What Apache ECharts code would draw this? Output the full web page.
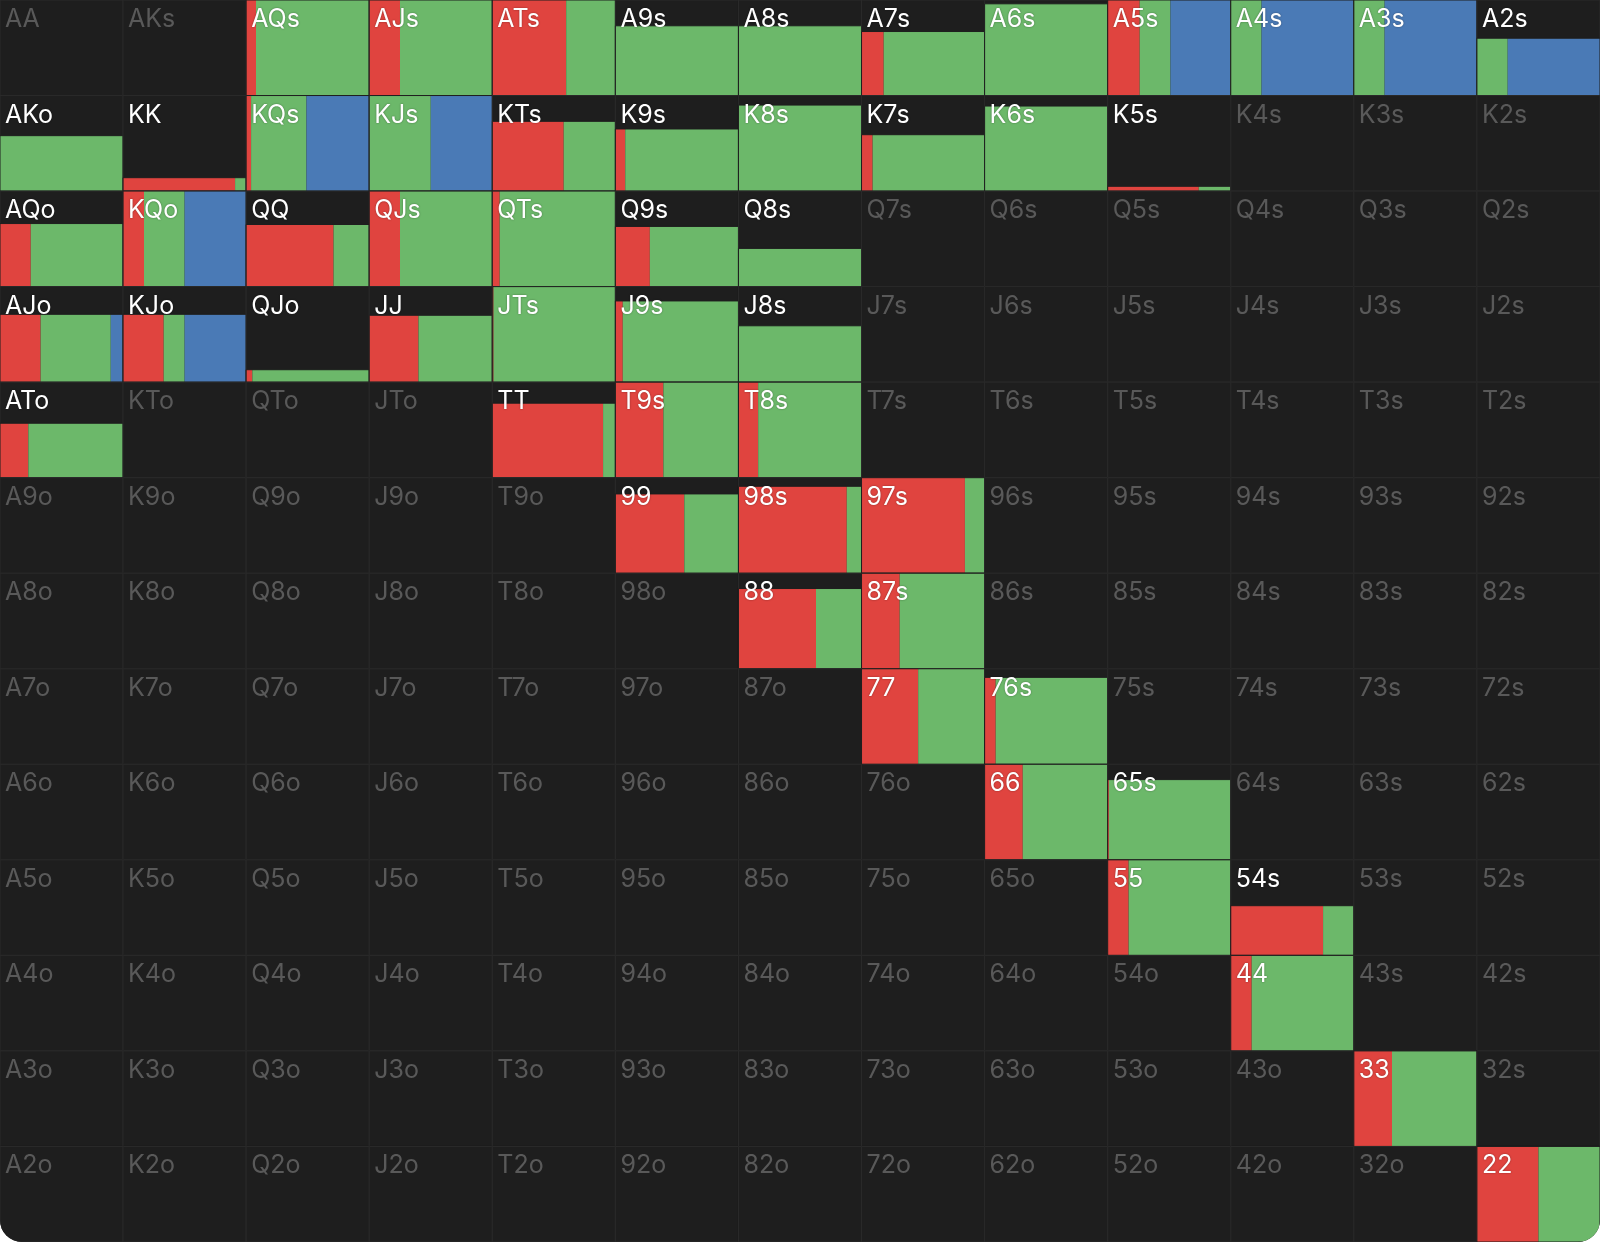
<!DOCTYPE html>
<html><head><meta charset="utf-8">
<script src="https://cdn.jsdelivr.net/npm/echarts@6/dist/echarts.min.js"></script>
<style>
html,body{margin:0;padding:0;background:#fff;}
#c{position:absolute;left:0;top:0;width:1600px;height:1242px;background:#1e1e1e;border-radius:0 0 22px 22px;overflow:hidden;}
</style></head><body>
<div id="c"></div>
<script>
const ranks = ['A','K','Q','J','T','9','8','7','6','5','4','3','2'];
// played hands: name, total frequency (bar height), shares of width: red, green, blue
const handNames = ['AQs','AJs','ATs','A9s','A8s','A7s','A6s','A5s','A4s','A3s','A2s',
 'AKo','KK','KQs','KJs','KTs','K9s','K8s','K7s','K6s','K5s',
 'AQo','KQo','QQ','QJs','QTs','Q9s','Q8s',
 'AJo','KJo','QJo','JJ','JTs','J9s','J8s',
 'ATo','TT','T9s','T8s',
 '99','98s','97s','88','87s','77','76s','66','65s','55','54s','44','33','22'];
const freqs = [1,1,1,0.73,0.73,0.67,0.96,1,1,1,0.6,
 0.58,0.14,1,1,0.73,0.65,0.9,0.59,0.89,0.05,
 0.66,1,0.65,1,1,0.63,0.4,
 0.71,0.71,0.13,0.7,1,0.85,0.59,
 0.57,0.78,1,1,
 0.83,0.91,1,0.84,1,1,0.91,1,0.84,1,0.52,1,1,1];
const redShare = [0.08,0.25,0.6,0,0,0.18,0,0.26,0,0,0,
 0,0.91,0.04,0,0.58,0.08,0,0.09,0,0.74,
 0.25,0.17,0.71,0.25,0.06,0.28,0,
 0.33,0.33,0.05,0.4,0.01,0.06,0,
 0.23,0.9,0.39,0.16,
 0.56,0.88,0.84,0.63,0.31,0.46,0.09,0.31,0.01,0.17,0.75,0.17,0.31,0.5];
const greenShare = [0.92,0.75,0.4,1,1,0.82,1,0.25,0.25,0.25,0.25,
 1,0.09,0.45,0.5,0.42,0.92,1,0.91,1,0.26,
 0.75,0.33,0.29,0.75,0.94,0.72,1,
 0.57,0.17,0.95,0.6,0.99,0.94,1,
 0.77,0.1,0.61,0.84,
 0.44,0.12,0.16,0.37,0.69,0.54,0.91,0.69,0.99,0.83,0.25,0.83,0.69,0.5];
const blueShare = [0,0,0,0,0,0,0,0.49,0.75,0.75,0.75,
 0,0,0.51,0.5,0,0,0,0,0,0,
 0,0.5,0,0,0,0,0,
 0.1,0.5,0,0,0,0,0,
 0,0,0,0,
 0,0,0,0,0,0,0,0,0,0,0,0,0,0];

const cells = [];
for (let r=0;r<13;r++) for (let c=0;c<13;c++){
  let name;
  if (r===c) name = ranks[r]+ranks[c];
  else if (c>r) name = ranks[r]+ranks[c]+'s';
  else name = ranks[c]+ranks[r]+'o';
  const i = handNames.indexOf(name);
  cells.push([c, r, name, i>=0?freqs[i]:0, i>=0?redShare[i]:0, i>=0?greenShare[i]:0, i>=0?blueShare[i]:0]);
}
const colors = ['#e0443f','#6cb86a','#4a7ab6'];
const chart = echarts.init(document.getElementById('c'));
chart.setOption({
  animation:false,
  grid:{left:0,top:0,right:0,bottom:0},
  xAxis:{type:'category',data:ranks,show:false},
  yAxis:{type:'category',data:ranks,show:false,inverse:true},
  series:[{
    type:'custom',
    data:cells,
    renderItem:function(params, api){
      const c=api.value(0), r=api.value(1);
      const p=api.coord([c,r]); const s=api.size([1,1]);
      const x0=p[0]-s[0]/2, y0=p[1]-s[1]/2, w=s[0], h=s[1];
      const f=api.value(3);
      const children=[{type:'rect',shape:{x:x0,y:y0,width:w,height:h},style:{fill:'#1e1e1e',stroke:'#2a2a2a',lineWidth:1}}];
      if(f>0){
        const bh=h*f; let x=x0;
        [api.value(4),api.value(5),api.value(6)].forEach((sh,k)=>{
          if(sh>0){children.push({type:'rect',shape:{x:x,y:y0+h-bh,width:w*sh,height:bh},style:{fill:colors[k]}}); x+=w*sh;}
        });
        children.push({type:'rect',shape:{x:x0,y:y0+h-bh,width:w,height:bh},style:{fill:'none',stroke:'#1e1e1e',lineWidth:1}});
      }
      children.push({type:'text',style:{x:x0+5,y:y0+7,text:api.value(2),fill:f>0?'#ffffff':'#595959',font:'25px Inter, "Noto Sans", sans-serif',textShadowColor:f>0?'rgba(0,0,0,0.4)':'transparent',textShadowBlur:f>0?2:0}});
      return {type:'group',children:children};
    }
  }]
});
</script></body></html>
